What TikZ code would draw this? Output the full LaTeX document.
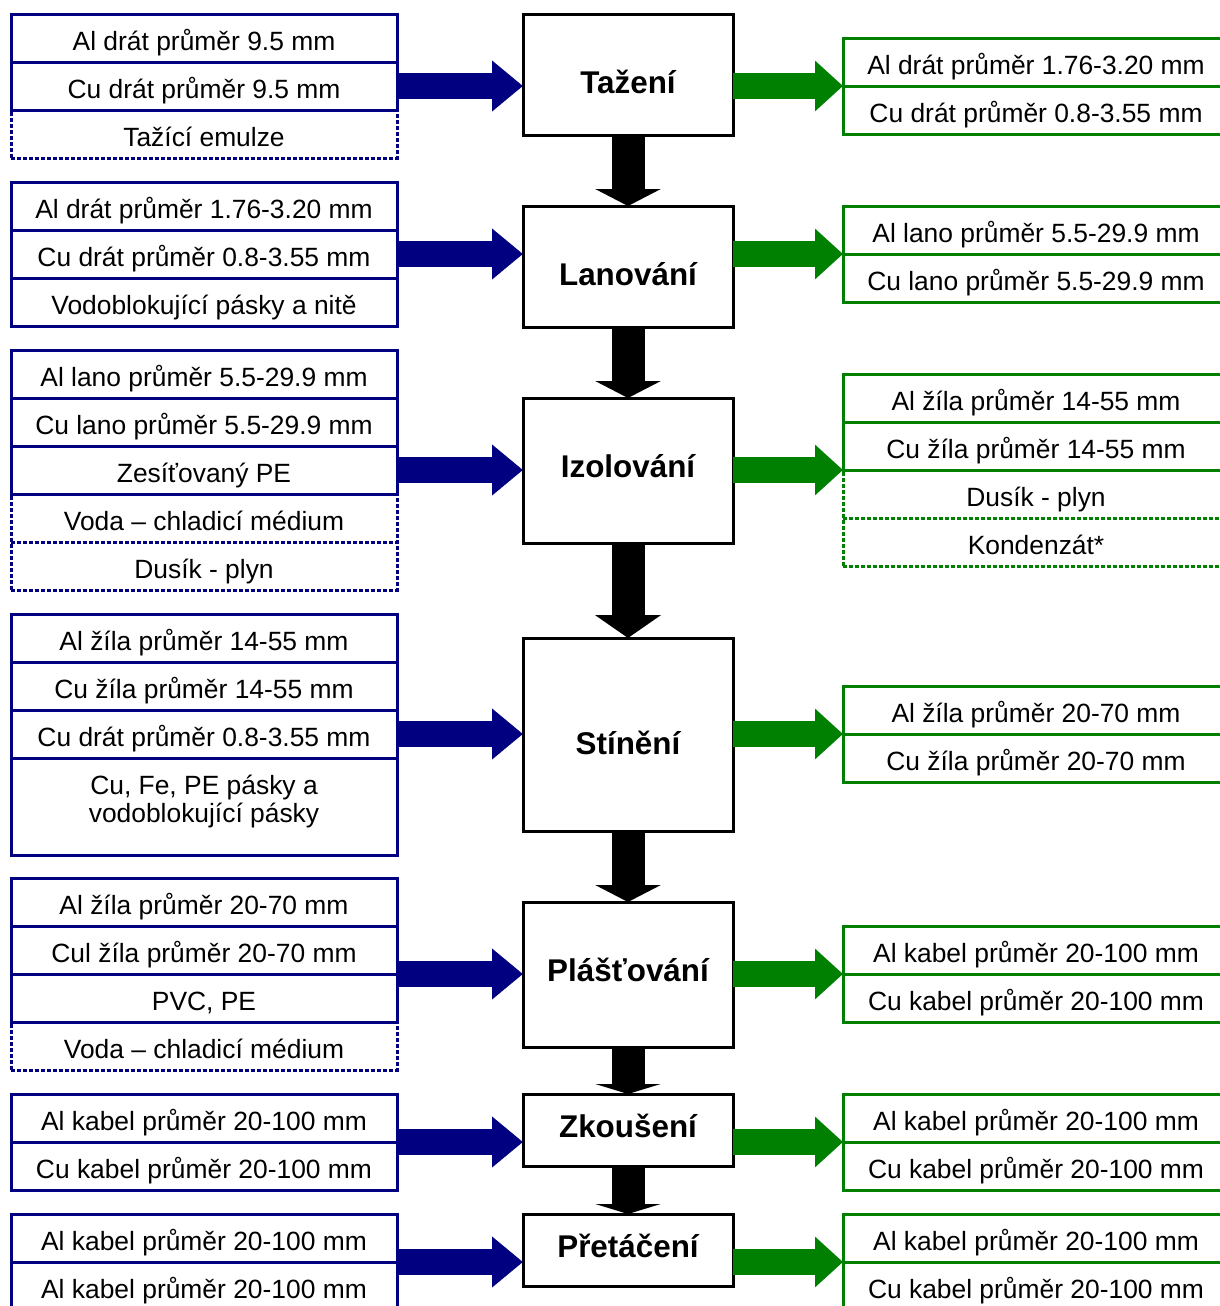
\documentclass[tikz,border=0pt]{standalone}
\usepackage{fontspec}
\setmainfont{Liberation Sans}
\usetikzlibrary{arrows.meta}
\definecolor{navy}{RGB}{0,0,128}
\definecolor{leaf}{RGB}{0,128,0}
\newcommand{\cellfont}{\fontsize{13.2}{13.6}\selectfont}
\newcommand{\procfont}{\fontsize{15.7}{16}\selectfont\bfseries}

\begin{document}
\begin{tikzpicture}[x=0.5pt,y=-0.5pt,inner sep=0pt,outer sep=0pt,
  srcbox/.style={draw=navy,line width=1.5pt,minimum width=193pt,minimum height=24pt,text height=12pt,text depth=0pt,font=\cellfont},
  srcdot/.style={srcbox,dash pattern=on 1.8pt off 1.2pt},
  outbox/.style={srcbox,draw=leaf},
  outdot/.style={outbox,dash pattern=on 1.8pt off 1.2pt},
  procbox/.style={draw,line width=1.5pt,minimum width=105pt,text height=7pt,text depth=0pt,font=\procfont},
  inarrow/.style={navy,line width=13pt,-{Triangle[width=24.5pt,length=15.5pt]}},
  outarrow/.style={leaf,line width=13pt,-{Triangle[width=24.5pt,length=14pt]}},
  flowdown/.style={line width=16.5pt,-{Triangle[width=32.5pt,length=#1]}}]

\useasboundingbox (0,0) rectangle (1220,1306);

% Tazeni
\node[srcbox](i1a) at (204,38) {Al drát průměr 9.5 mm};
\node[srcbox](i1b) at (204,86) {Cu drát průměr 9.5 mm};
\node[srcdot](i1c) at (204,134) {Tažící emulze};
\node[procbox,minimum height=60.5pt,text height=18.7pt](p1) at (628,74.5) {Tažení};
\node[outbox](o1a) at (1036,62) {Al drát průměr 1.76-3.20 mm};
\node[outbox](o1b) at (1036,110) {Cu drát průměr 0.8-3.55 mm};

% Lanovani
\node[srcbox](i2a) at (204,206) {Al drát průměr 1.76-3.20 mm};
\node[srcbox](i2b) at (204,254) {Cu drát průměr 0.8-3.55 mm};
\node[srcbox](i2c) at (204,302) {Vodoblokující pásky a nitě};
\node[procbox,minimum height=60.5pt,text height=18.7pt](p2) at (628,266.5) {Lanování};
\node[outbox](o2a) at (1036,230) {Al lano průměr 5.5-29.9 mm};
\node[outbox](o2b) at (1036,278) {Cu lano průměr 5.5-29.9 mm};

% Izolovani
\node[srcbox](i3a) at (204,374) {Al lano průměr 5.5-29.9 mm};
\node[srcbox](i3b) at (204,422) {Cu lano průměr 5.5-29.9 mm};
\node[srcbox](i3c) at (204,470) {Zesíťovaný PE};
\node[srcdot](i3d) at (204,518) {Voda – chladicí médium};
\node[srcdot](i3e) at (204,566) {Dusík - plyn};
\node[procbox,minimum height=72.5pt](p3) at (628,470.5) {Izolování};
\node[outbox](o3a) at (1036,398) {Al žíla průměr 14-55 mm};
\node[outbox](o3b) at (1036,446) {Cu žíla průměr 14-55 mm};
\node[outdot](o3c) at (1036,494) {Dusík - plyn};
\node[outdot](o3d) at (1036,542) {Kondenzát*};

% Stineni
\node[srcbox](i4a) at (204,638) {Al žíla průměr 14-55 mm};
\node[srcbox](i4b) at (204,686) {Cu žíla průměr 14-55 mm};
\node[srcbox](i4c) at (204,734) {Cu drát průměr 0.8-3.55 mm};
\node[srcbox,minimum height=48.5pt,align=center,text height=15.5pt,text depth=0pt](i4d) at (204,806.5) {Cu, Fe, PE pásky a\\vodoblokující pásky};
\node[procbox,minimum height=96.5pt,text height=19.7pt](p4) at (628,734.5) {Stínění};
\node[outbox](o4a) at (1036,710) {Al žíla průměr 20-70 mm};
\node[outbox](o4b) at (1036,758) {Cu žíla průměr 20-70 mm};

% Plastovani
\node[srcbox](i5a) at (204,902) {Al žíla průměr 20-70 mm};
\node[srcbox](i5b) at (204,950) {Cul žíla průměr 20-70 mm};
\node[srcbox](i5c) at (204,998) {PVC, PE};
\node[srcdot](i5d) at (204,1046) {Voda – chladicí médium};
\node[procbox,minimum height=72.5pt](p5) at (628,974.5) {Plášťování};
\node[outbox](o5a) at (1036,950) {Al kabel průměr 20-100 mm};
\node[outbox](o5b) at (1036,998) {Cu kabel průměr 20-100 mm};

% Zkouseni
\node[srcbox](i6a) at (204,1118) {Al kabel průměr 20-100 mm};
\node[srcbox](i6b) at (204,1166) {Cu kabel průměr 20-100 mm};
\node[procbox,minimum height=36pt](p6) at (628,1130) {Zkoušení};
\node[outbox](o6a) at (1036,1118) {Al kabel průměr 20-100 mm};
\node[outbox](o6b) at (1036,1166) {Cu kabel průměr 20-100 mm};

% Pretaceni
\node[srcbox](i7a) at (204,1238) {Al kabel průměr 20-100 mm};
\node[srcbox](i7b) at (204,1286) {Al kabel průměr 20-100 mm};
\node[procbox,minimum height=36pt](p7) at (628,1250) {Přetáčení};
\node[outbox](o7a) at (1036,1238) {Al kabel průměr 20-100 mm};
\node[outbox](o7b) at (1036,1286) {Cu kabel průměr 20-100 mm};

\draw[inarrow] (i1b.east |- o1a.south) -- (p1.west |- o1a.south);
\draw[inarrow] (i2b.east |- o2a.south) -- (p2.west |- o2a.south);
\draw[inarrow] (i3c.east |- o3b.south) -- (p3.west |- o3b.south);
\draw[inarrow] (i4c.east |- o4a.south) -- (p4.west |- o4a.south);
\draw[inarrow] (i5b.east |- o5a.south) -- (p5.west |- o5a.south);
\draw[inarrow] (i6a.east |- o6a.south) -- (p6.west |- o6a.south);
\draw[inarrow] (i7a.east |- o7a.south) -- (p7.west |- o7a.south);

\draw[outarrow] (p1.east |- o1a.south) -- (o1a.south west);
\draw[outarrow] (p2.east |- o2a.south) -- (o2a.south west);
\draw[outarrow] (p3.east |- o3b.south) -- (o3b.south west);
\draw[outarrow] (p4.east |- o4a.south) -- (o4a.south west);
\draw[outarrow] (p5.east |- o5a.south) -- (o5a.south west);
\draw[outarrow] (p6.east |- o6a.south) -- (o6a.south west);
\draw[outarrow] (p7.east |- o7a.south) -- (o7a.south west);

\draw[flowdown=8.5pt] (p1.south) -- (p2.north);
\draw[flowdown=8.5pt] (p2.south) -- (p3.north);
\draw[flowdown=11.5pt] (p3.south) -- (p4.north);
\draw[flowdown=8.5pt] (p4.south) -- (p5.north);
\draw[flowdown=5pt] (p5.south) -- (p6.north);
\draw[flowdown=5pt] (p6.south) -- (p7.north);

\end{tikzpicture}
\end{document}
